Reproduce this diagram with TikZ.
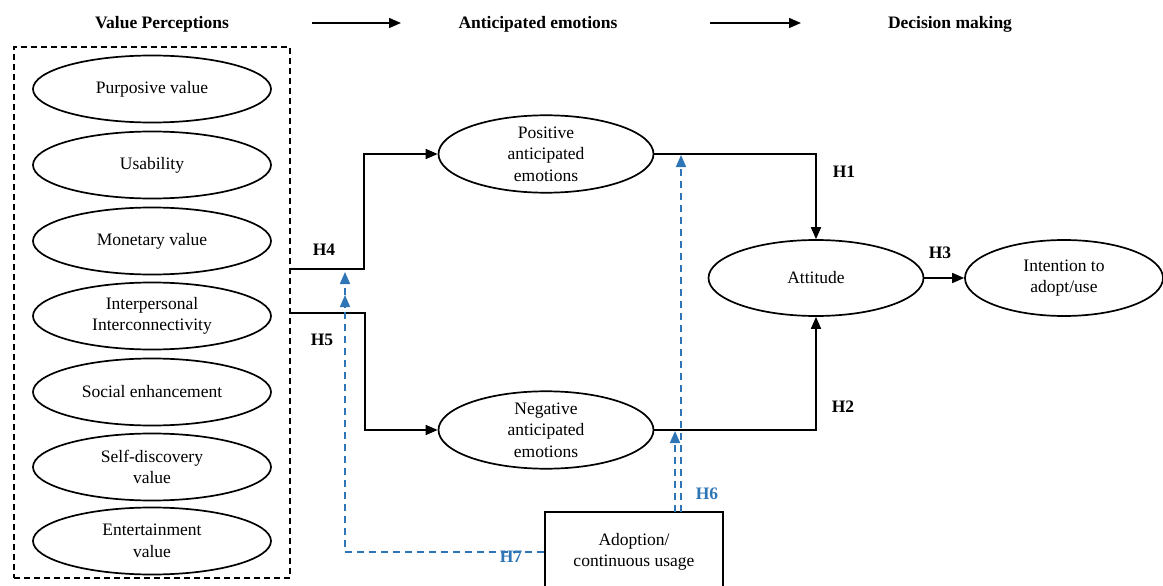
\documentclass[tikz,border=0pt]{standalone}
\usepackage{fontspec}
\setmainfont{Liberation Serif}
\usetikzlibrary{shapes.geometric,arrows.meta}
\definecolor{hblue}{RGB}{46,117,182}
\begin{document}
\begin{tikzpicture}[x=1pt,y=-1pt,
  every node/.style={font=\fontsize{17.5}{21.5}\selectfont},
  ell/.style={draw,ellipse,line width=1.7pt,minimum width=238pt,minimum height=67pt,inner sep=0pt,align=center},
  emo/.style={draw,ellipse,line width=1.7pt,minimum width=215pt,minimum height=75pt,inner sep=0pt,align=center},
  lbl/.style={font=\fontsize{17.5}{21.5}\selectfont\bfseries},
  blbl/.style={font=\fontsize{17.5}{21.5}\selectfont\bfseries,text=hblue},
  ln/.style={line width=1.7pt},
  arr/.style={line width=1.7pt,-{Triangle[length=12pt,width=10pt]}},
  bl/.style={line width=1.7pt,hblue,dash pattern=on 7pt off 5pt,-{Triangle[length=12pt,width=10pt]}}]
\useasboundingbox (0,0) rectangle (1163,586);
% headers
\node[lbl] (h1) at (162,24) {Value Perceptions};
\node[lbl] (h2) at (538,24) {Anticipated emotions};
\node[lbl] (h3) at (950,24) {Decision making};
\coordinate (ha1) at (312,23);
\coordinate (ha2) at (401,23);
\coordinate (hb1) at (710,23);
\coordinate (hb2) at (801,23);
\draw[arr,line width=1.5pt] (ha1) -- (ha2);
\draw[arr,line width=1.5pt] (hb1) -- (hb2);
% dashed group
\node[draw,line width=1.5pt,dash pattern=on 6pt off 4pt,minimum width=276pt,minimum height=531pt,inner sep=0pt] (vp) at (152,312.5) {};
\node[ell] (pv) at (152,89) {Purposive value};
\node[ell] (us) at (152,165) {Usability};
\node[ell] (mv) at (152,241) {Monetary value};
\node[ell] (ii) at (152,316) {Interpersonal\\Interconnectivity};
\node[ell] (se) at (152,392) {Social enhancement};
\node[ell] (sd) at (152,467) {Self-discovery\\value};
\node[ell] (ev) at (152,541) {Entertainment\\value};
% emotions
\node[emo] (pos) at (546,154) {Positive\\anticipated\\emotions};
\node[emo] (neg) at (546,430) {Negative\\anticipated\\emotions};
\node[emo,minimum width=215pt,minimum height=76pt] (att) at (816,278) {Attitude};
\node[emo,minimum width=198pt,minimum height=76pt] (int) at (1064,278) {Intention to\\adopt/use};
\node[draw,line width=1.7pt,minimum width=178pt,minimum height=80pt,inner sep=0pt,align=center] (ad) at (634,552) {Adoption/\\continuous usage};
% connectors
\coordinate (a4) at (291,269);
\coordinate (k4) at (364,269);
\coordinate (a5) at (291,313);
\coordinate (k5) at (365,313);
\draw[arr] (a4) -- (k4) |- (pos.west);
\draw[arr] (a5) -- (k5) |- (neg.west);
\draw[arr] (pos.east) -| (att.north);
\draw[arr] (neg.east) -| (att.south);
\draw[arr] (att.east) -- (int.west);
% moderation
\coordinate (b6a) at (675,512);
\coordinate (b6b) at (675,431);
\coordinate (b7a) at (681,512);
\coordinate (b7b) at (681,155);
\draw[bl] (b6a) -- (b6b);
\draw[bl] (b7a) -- (b7b);
\coordinate (m1) at (345,272);
\coordinate (m2) at (345,295);
\draw[bl] (ad.west) -| (m1);
\draw[bl] (ad.west) -| (m2);
% labels
\node[lbl] (l4) at (324,250) {H4};
\node[lbl] (l5) at (322,340) {H5};
\node[lbl] (l1) at (844,172) {H1};
\node[lbl] (l2) at (843,407) {H2};
\node[lbl] (l3) at (940,253) {H3};
\node[blbl] (l6) at (707,494) {H6};
\node[blbl] (l7) at (511,557) {H7};
\end{tikzpicture}
\end{document}
